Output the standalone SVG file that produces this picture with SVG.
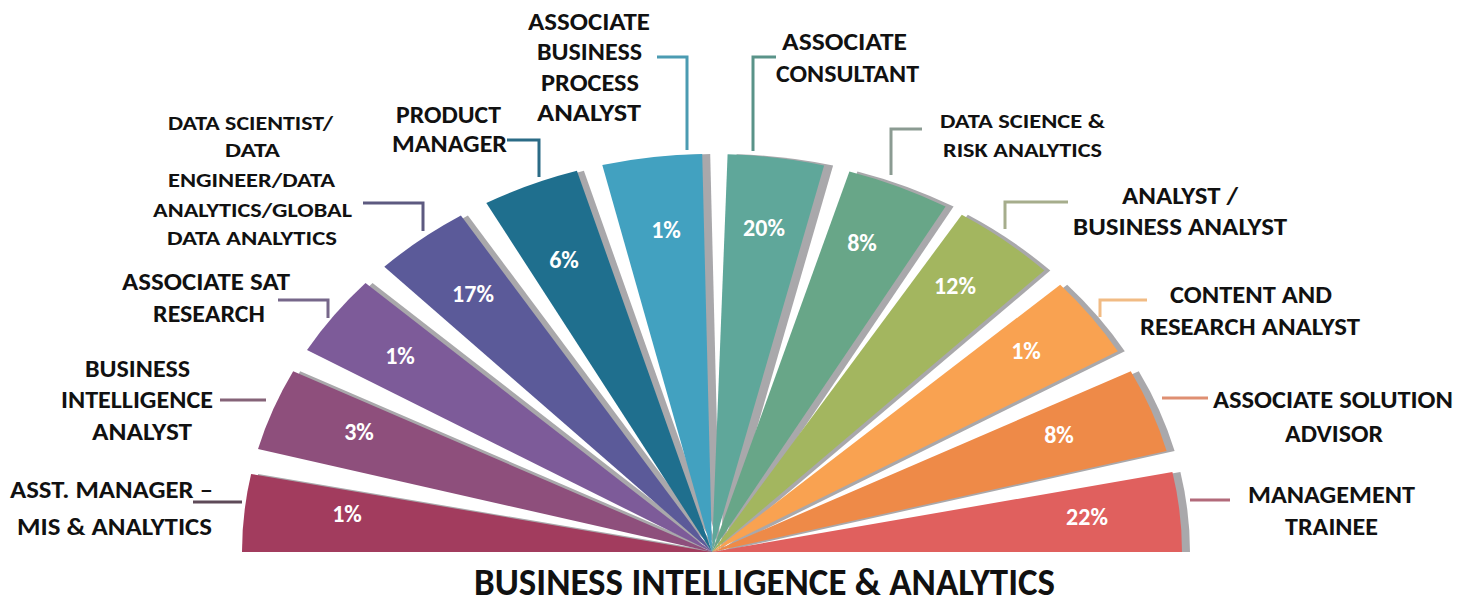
<svg xmlns="http://www.w3.org/2000/svg" width="1459" height="605" viewBox="0 0 1459 605">
<style>
.sh{fill:#a9a8ab;}
.pct{font-family:Carlito,Lato,"Open Sans","Liberation Sans",sans-serif;font-weight:bold;font-size:24px;fill:#ffffff;text-anchor:middle;}
.lb{font-family:Carlito,Lato,"Open Sans","Liberation Sans",sans-serif;font-weight:bold;font-size:24px;fill:#111111;}
.sm{font-family:Carlito,Lato,"Open Sans","Liberation Sans",sans-serif;font-weight:bold;font-size:20.5px;fill:#111111;}
.ttl{font-family:Carlito,Lato,"Open Sans","Liberation Sans",sans-serif;font-weight:bold;font-size:38px;fill:#111111;}
.ld{fill:none;stroke-width:3;}
</style>
<rect width="1459" height="605" fill="#ffffff"/>
<g id="n1">
<path class="sh" transform="translate(7,0)" d="M712,552 L242,552 A470,398 0 0 1 251.1,474 Z"/>
<path fill="#a23c5e" d="M712,552 L242,552 A470,398 0 0 1 251.1,474 Z"/>
<text class="pct" x="347" y="522">1%</text>
<text class="lb" x="10" y="498" textLength="203" lengthAdjust="spacingAndGlyphs">ASST. MANAGER –</text>
<text class="lb" x="17" y="535" textLength="195" lengthAdjust="spacingAndGlyphs">MIS &amp; ANALYTICS</text>
</g>
<g id="n2">
<path class="sh" transform="translate(7,0)" d="M712,552 L258,449 A470,398 0 0 1 293.2,371.3 Z"/>
<path fill="#8e4f7c" d="M712,552 L258,449 A470,398 0 0 1 293.2,371.3 Z"/>
<text class="pct" x="359" y="440">3%</text>
<text class="lb" x="85" y="377" textLength="105" lengthAdjust="spacingAndGlyphs">BUSINESS</text>
<text class="lb" x="61" y="408" textLength="152" lengthAdjust="spacingAndGlyphs">INTELLIGENCE</text>
<text class="lb" x="92" y="440" textLength="100" lengthAdjust="spacingAndGlyphs">ANALYST</text>
</g>
<g id="n3">
<path class="sh" transform="translate(7,0)" d="M712,552 L307,350 A470,398 0 0 1 365.5,283.1 Z"/>
<path fill="#7d5b99" d="M712,552 L307,350 A470,398 0 0 1 365.5,283.1 Z"/>
<text class="pct" x="400" y="364">1%</text>
<text class="lb" x="122" y="290" textLength="168" lengthAdjust="spacingAndGlyphs">ASSOCIATE SAT</text>
<text class="lb" x="153" y="322" textLength="112" lengthAdjust="spacingAndGlyphs">RESEARCH</text>
</g>
<g id="n4">
<path class="sh" transform="translate(7,0)" d="M712,552 L384.3,266.7 A470,398 0 0 1 460.9,215.6 Z"/>
<path fill="#5b5a99" d="M712,552 L384.3,266.7 A470,398 0 0 1 460.9,215.6 Z"/>
<text class="pct" x="473" y="302">17%</text>
<text class="sm" x="168" y="130" textLength="165" lengthAdjust="spacingAndGlyphs">DATA SCIENTIST/</text>
<text class="sm" x="225" y="157" textLength="55" lengthAdjust="spacingAndGlyphs">DATA</text>
<text class="sm" x="168" y="187" textLength="167" lengthAdjust="spacingAndGlyphs">ENGINEER/DATA</text>
<text class="sm" x="153" y="217" textLength="199" lengthAdjust="spacingAndGlyphs">ANALYTICS/GLOBAL</text>
<text class="sm" x="167" y="245" textLength="170" lengthAdjust="spacingAndGlyphs">DATA ANALYTICS</text>
</g>
<g id="n5">
<path class="sh" transform="translate(7,0)" d="M712,552 L486.3,202.9 A470,398 0 0 1 576.9,170.8 Z"/>
<path fill="#1f6f8e" d="M712,552 L486.3,202.9 A470,398 0 0 1 576.9,170.8 Z"/>
<text class="pct" x="564" y="268">6%</text>
<text class="lb" x="396" y="123" textLength="105" lengthAdjust="spacingAndGlyphs">PRODUCT</text>
<text class="lb" x="392" y="152" textLength="115" lengthAdjust="spacingAndGlyphs">MANAGER</text>
</g>
<g id="n6">
<path class="sh" transform="translate(8,0)" d="M712,552 L602.3,165 A470,398 0 0 1 702.2,154.1 Z"/>
<path fill="#42a1c0" d="M712,552 L602.3,165 A470,398 0 0 1 702.2,154.1 Z"/>
<text class="pct" x="666" y="238">1%</text>
<text class="lb" x="528" y="30" textLength="122" lengthAdjust="spacingAndGlyphs">ASSOCIATE</text>
<text class="lb" x="537" y="60" textLength="105" lengthAdjust="spacingAndGlyphs">BUSINESS</text>
<text class="lb" x="541" y="91" textLength="98" lengthAdjust="spacingAndGlyphs">PROCESS</text>
<text class="lb" x="537" y="121" textLength="104" lengthAdjust="spacingAndGlyphs">ANALYST</text>
</g>
<g id="n7">
<path class="sh" transform="translate(9,0)" d="M712,552 L727.6,154.2 A470,398 0 0 1 824.1,165.5 Z"/>
<path fill="#5fa79a" d="M712,552 L727.6,154.2 A470,398 0 0 1 824.1,165.5 Z"/>
<text class="pct" x="764" y="236">20%</text>
<text class="lb" x="782" y="50" textLength="125" lengthAdjust="spacingAndGlyphs">ASSOCIATE</text>
<text class="lb" x="776" y="82" textLength="143" lengthAdjust="spacingAndGlyphs">CONSULTANT</text>
</g>
<g id="n8">
<path class="sh" transform="translate(8,0)" d="M712,552 L849.4,171.4 A470,398 0 0 1 945.6,206.6 Z"/>
<path fill="#68a688" d="M712,552 L849.4,171.4 A470,398 0 0 1 945.6,206.6 Z"/>
<text class="pct" x="862" y="251">8%</text>
<text class="sm" x="940" y="128" textLength="165" lengthAdjust="spacingAndGlyphs">DATA SCIENCE &amp;</text>
<text class="sm" x="943" y="157" textLength="159" lengthAdjust="spacingAndGlyphs">RISK ANALYTICS</text>
</g>
<g id="n9">
<path class="sh" transform="translate(6,0)" d="M712,552 L961.8,214.8 A470,398 0 0 1 1044.3,270.6 Z"/>
<path fill="#a3b65f" d="M712,552 L961.8,214.8 A470,398 0 0 1 1044.3,270.6 Z"/>
<text class="pct" x="955" y="294">12%</text>
<text class="lb" x="1122" y="204" textLength="116" lengthAdjust="spacingAndGlyphs">ANALYST /</text>
<text class="lb" x="1073" y="235" textLength="214" lengthAdjust="spacingAndGlyphs">BUSINESS ANALYST</text>
</g>
<g id="n10">
<path class="sh" transform="translate(7,0)" d="M712,552 L1060.2,284.7 A470,398 0 0 1 1117.8,351.2 Z"/>
<path fill="#f9a251" d="M712,552 L1060.2,284.7 A470,398 0 0 1 1117.8,351.2 Z"/>
<text class="pct" x="1026" y="359">1%</text>
<text class="lb" x="1170" y="303" textLength="162" lengthAdjust="spacingAndGlyphs">CONTENT AND</text>
<text class="lb" x="1140" y="335" textLength="220" lengthAdjust="spacingAndGlyphs">RESEARCH ANALYST</text>
</g>
<g id="n11">
<path class="sh" transform="translate(8,0)" d="M712,552 L1130.8,371.3 A470,398 0 0 1 1166.6,451 Z"/>
<path fill="#ee8a48" d="M712,552 L1130.8,371.3 A470,398 0 0 1 1166.6,451 Z"/>
<text class="pct" x="1059" y="443">8%</text>
<text class="lb" x="1213" y="408" textLength="240" lengthAdjust="spacingAndGlyphs">ASSOCIATE SOLUTION</text>
<text class="lb" x="1285" y="442" textLength="98" lengthAdjust="spacingAndGlyphs">ADVISOR</text>
</g>
<g id="n12">
<path class="sh" transform="translate(8,0)" d="M712,552 L1172.4,472 A470,398 0 0 1 1182,552 Z"/>
<path fill="#e0605e" d="M712,552 L1172.4,472 A470,398 0 0 1 1182,552 Z"/>
<text class="pct" x="1087" y="525">22%</text>
<text class="lb" x="1248" y="503" textLength="167" lengthAdjust="spacingAndGlyphs">MANAGEMENT</text>
<text class="lb" x="1285" y="535" textLength="93" lengthAdjust="spacingAndGlyphs">TRAINEE</text>
</g>
<g id="connectors">
<path class="ld" stroke="#5e4a58" d="M193,502 H242"/>
<path class="ld" stroke="#856378" d="M220,400 H266"/>
<path class="ld" stroke="#76678a" d="M278,300 H328 V318"/>
<path class="ld" stroke="#5d5a80" d="M363,203 H423 V231"/>
<path class="ld" stroke="#2b6b86" d="M507,140 H539 V177"/>
<path class="ld" stroke="#4b9bb2" d="M657,57 H687 V150"/>
<path class="ld" stroke="#5a9389" d="M776,57 H753 V151"/>
<path class="ld" stroke="#8b9b92" d="M922,129 H891 V175"/>
<path class="ld" stroke="#a6ad8c" d="M1068,202 H1005 V229"/>
<path class="ld" stroke="#f1bb84" d="M1147,300 H1100 V317"/>
<path class="ld" stroke="#df8f72" d="M1162,398 H1208"/>
<path class="ld" stroke="#b26a7a" d="M1190,500 H1230"/>
</g>
<g id="title">
<text class="ttl" x="474" y="595" textLength="581" lengthAdjust="spacingAndGlyphs">BUSINESS INTELLIGENCE &amp; ANALYTICS</text>
</g>
</svg>
